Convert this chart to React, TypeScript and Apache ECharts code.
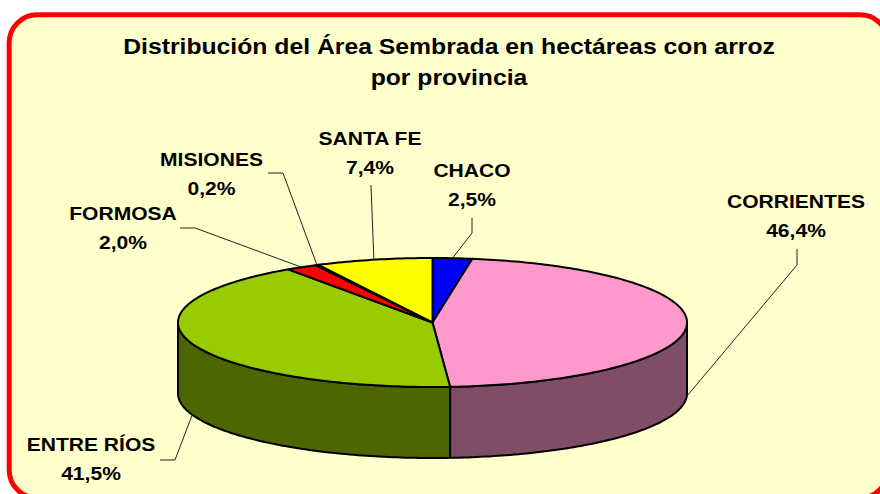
import React, { useEffect, useRef } from "react";
import * as echarts from "echarts";

// ---- data ----
const provinces = ["CHACO", "CORRIENTES", "ENTRE RÍOS", "FORMOSA", "MISIONES", "SANTA FE"];
const shares = [2.5, 46.4, 41.5, 2.0, 0.2, 7.4];
const titleLines = ["Distribución del Área Sembrada en hectáreas con arroz", "por provincia"];

// ---- styles / layout (kept apart from data) ----
const topColors = ["#0000FF", "#FF99CC", "#99CC00", "#FF0000", "#993366", "#FFFF00"];
const labelPos = [
  [472, 171],
  [796, 201.5],
  [91, 445],
  [123, 214],
  [211.5, 160],
  [370, 138.5],
];
const leaderElbows = [
  [[472, 218], [472, 233]],
  [[797, 249], [797, 265]],
  [[160, 460], [175, 460]],
  [[180, 228], [195, 228]],
  [[268, 173], [283, 173]],
  [[371, 185]],
];

const CX = 432.5;
const CY = 322.5;
const RX = 254.5;
const RY = 64.5;
const DEPTH = 71;
const LABEL_FONT = 'bold 18px "Liberation Sans", Arial, sans-serif';
const LABEL_SCALE = 1.17;

function darken(hex: string, f: number) {
  const n = parseInt(hex.slice(1), 16);
  const r = Math.round(((n >> 16) & 255) * f);
  const g = Math.round(((n >> 8) & 255) * f);
  const b = Math.round((n & 255) * f);
  return `rgb(${r},${g},${b})`;
}

function pt(a: number, dy = 0): number[] {
  return [CX + RX * Math.sin(a), CY - RY * Math.cos(a) + dy];
}

function arc(a0: number, a1: number, dy = 0): number[][] {
  const n = Math.max(2, Math.ceil(((a1 - a0) * 180) / Math.PI));
  const out: number[][] = [];
  for (let i = 0; i <= n; i++) out.push(pt(a0 + ((a1 - a0) * i) / n, dy));
  return out;
}

function fmt(v: number) {
  return v.toFixed(1).replace(".", ",") + "%";
}

export default function App() {
  const ref = useRef<HTMLDivElement>(null);
  useEffect(() => {
    document.body.style.margin = "0";
    const chart = echarts.init(ref.current!, null, { renderer: "svg" });
    const total = shares.reduce((s, v) => s + v, 0);
    const cum: number[] = [];
    let acc = 0;
    shares.forEach((v) => {
      cum.push(acc);
      acc += v;
    });

    const renderItem = (params: any, api: any) => {
      const i = params.dataIndex;
      const v = api.value(0);
      const a0 = (cum[i] / total) * Math.PI * 2;
      const a1 = ((cum[i] + v) / total) * Math.PI * 2;
      const children: any[] = [];
      // side wall (front half only)
      const s = Math.max(a0, Math.PI / 2);
      const e = Math.min(a1, (Math.PI * 3) / 2);
      if (e > s) {
        const top = arc(s, e, 0);
        const bot = arc(s, e, DEPTH).reverse();
        children.push({
          type: "polygon",
          shape: { points: top.concat(bot) },
          style: { fill: darken(topColors[i], 0.5), stroke: "#000", lineWidth: 2, lineJoin: "round" },
        });
      }
      // top face
      children.push({
        type: "polygon",
        shape: { points: [[CX, CY]].concat(arc(a0, a1, 0)) },
        style: { fill: topColors[i], stroke: "#000", lineWidth: 2, lineJoin: "round" },
      });
      // leader line
      const mid = (a0 + a1) / 2;
      const front = Math.cos(mid) < 0;
      const anchor = pt(mid, front ? DEPTH : 0);
      children.push({
        type: "polyline",
        shape: { points: leaderElbows[i].concat([anchor]) },
        style: { stroke: "#222", lineWidth: 1, fill: null },
        z2: 5,
      });
      // labels
      const [lx, ly] = labelPos[i];
      children.push({
        type: "text",
        x: lx,
        y: ly,
        scaleX: LABEL_SCALE,
        style: {
          text: provinces[i],
          font: LABEL_FONT,
          fill: "#000",
          textAlign: "center",
          textVerticalAlign: "middle",
          align: "center",
          verticalAlign: "middle",
        },
        z2: 6,
      });
      children.push({
        type: "text",
        x: lx,
        y: ly + 29,
        scaleX: LABEL_SCALE,
        style: {
          text: fmt(v),
          font: LABEL_FONT,
          fill: "#000",
          textAlign: "center",
          textVerticalAlign: "middle",
          align: "center",
          verticalAlign: "middle",
        },
        z2: 6,
      });
      return { type: "group", children };
    };

    chart.setOption({
      animation: false,
      backgroundColor: "#FFFFFF",
      graphic: [
        {
          type: "rect",
          z: 0,
          silent: true,
          shape: { x: 9.2, y: 14.8, width: 878.8, height: 483.2, r: 28 },
          style: { fill: "#FFFFCC", stroke: "#FF0000", lineWidth: 5 },
        },
        ...titleLines.map((t, k) => ({
          type: "text",
          z: 1,
          x: 449,
          y: 46 + k * 31,
          scaleX: 1.125,
          style: {
            text: t,
            font: 'bold 22px "Liberation Sans", Arial, sans-serif',
            fill: "#000",
            textAlign: "center",
            textVerticalAlign: "middle",
            align: "center",
            verticalAlign: "middle",
          },
        })),
      ],
      series: [
        {
          type: "custom",
          coordinateSystem: "none",
          z: 5,
          data: shares,
          renderItem,
        },
      ],
    });
    return () => chart.dispose();
  }, []);
  return <div ref={ref} style={{ width: 880, height: 494 }} />;
}
